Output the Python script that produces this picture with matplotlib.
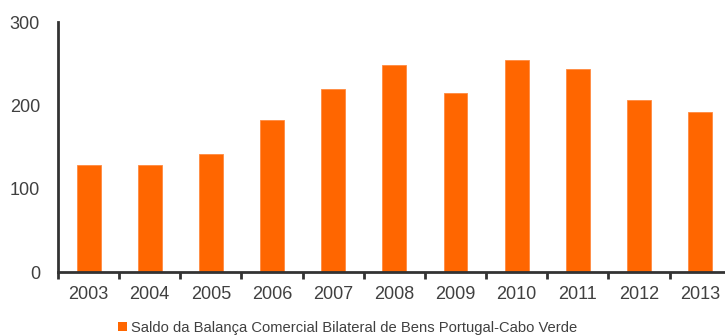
import matplotlib
matplotlib.use("Agg")
import matplotlib.pyplot as plt
import numpy as np
from matplotlib.patches import Patch

years = ["2003", "2004", "2005", "2006", "2007", "2008",
         "2009", "2010", "2011", "2012", "2013"]
saldo = [128, 129, 142, 182, 220, 248, 215, 255, 244, 206, 192]
label = "Saldo da Balança Comercial Bilateral de Bens Portugal-Cabo Verde"

plt.rcParams['font.family'] = ['Liberation Sans', 'DejaVu Sans']
orange = '#FF6600'
dark = '#333333'

fig = plt.figure(figsize=(7.25, 3.35), dpi=100)
ax = fig.add_axes([0.08, 0.188, 0.928, 0.746])

x = np.arange(len(years))
ax.bar(x, saldo, width=0.39, color=orange, edgecolor='#FF8A40', linewidth=0.6)

ax.set_xlim(-0.5, len(years) - 0.5)
ax.set_ylim(0, 300)
ax.set_yticks([0, 100, 200, 300])
ax.set_xticks(x)
ax.set_xticklabels(years)
ax.set_xticks(np.arange(-0.5, len(years), 1.0), minor=True)

for s in ['top', 'right']:
    ax.spines[s].set_visible(False)
for s in ['left', 'bottom']:
    ax.spines[s].set_color(dark)
    ax.spines[s].set_linewidth(2)

ax.tick_params(axis='x', which='major', length=0, pad=10, labelsize=13, labelcolor='#404040')
ax.tick_params(axis='x', which='minor', length=5, width=2, color=dark, direction='out')
ax.tick_params(axis='y', length=0, pad=13, labelsize=13, labelcolor='#404040')

handle = Patch(facecolor=orange, edgecolor='none')
fig.legend([handle], [label], loc='center', bbox_to_anchor=(0.479, 0.022),
           frameon=False, fontsize=10.6, handlelength=0.65, handleheight=0.65,
           handletextpad=0.25, labelcolor='#404040', borderpad=0)

fig.savefig("out.png", dpi=100)
